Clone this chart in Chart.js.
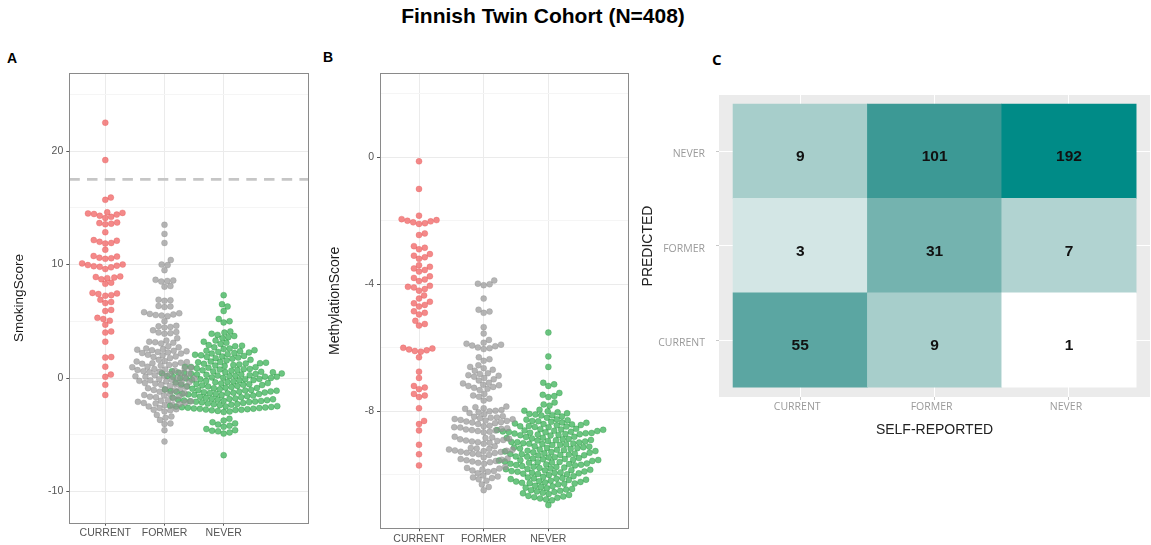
<!DOCTYPE html>
<html><head><meta charset="utf-8">
<script src="https://cdn.jsdelivr.net/npm/chart.js@4.4.1/dist/chart.umd.min.js"></script>
<style>
html,body{margin:0;padding:0;background:#fff;width:1151px;height:545px;overflow:hidden;position:relative;font-family:'Liberation Sans',Arial,sans-serif}
canvas{position:absolute}
.lbl{position:absolute;font-weight:bold;white-space:nowrap;line-height:1;color:#000}
</style></head><body>
<div class="lbl" style="left:543px;top:5px;font-size:21px;transform:translateX(-50%)">Finnish Twin Cohort (N=408)</div>
<div class="lbl" style="left:7px;top:51px;font-size:14px">A</div>
<div class="lbl" style="left:323px;top:50px;font-size:14px">B</div>
<div class="lbl" style="left:712px;top:52px;font-size:15px;font-family:'Open Sans'">C</div>
<canvas id="cA" width="320" height="505" style="left:0;top:40px"></canvas>
<canvas id="cB" width="320" height="505" style="left:320px;top:40px"></canvas>
<canvas id="cC" width="521" height="420" style="left:630px;top:40px"></canvas>
<script>
// ---------------- DATA ----------------
const categories = ['CURRENT', 'FORMER', 'NEVER'];

const smokingCurrent = [22.5, 19.2, 15.9, 15.7, 14.6, 14.55, 14.5, 14.45, 14.4, 14.3, 14.2, 14.1,
  13.7, 13.65, 13.6, 13.55, 12.85, 12.15, 12.1, 12.0, 11.9, 11.85, 11.3, 10.75, 10.7, 10.6, 10.55, 10.5,
  10.1, 10.0, 9.95, 9.9, 9.85, 9.8, 9.75, 9.6, 8.95, 8.9, 8.85, 8.8, 8.7, 8.4, 8.3,
  7.5, 7.45, 7.4, 7.3, 7.25, 6.9, 6.7, 6.6, 6.0, 5.9, 5.3, 5.2, 5.05, 4.7, 4.1, 4.0, 3.2,
  1.85, 1.8, 1.0, 0.3, 0.1, -0.6, -1.5];

const smokingFormer = [13.5, 12.7, 11.9, 10.4, 10.0, 9.95, 9.5, 8.65, 8.6, 8.55, 8.5, 8.1, 8.05,
  6.9, 6.85, 6.8, 6.35, 6.3, 6.25,
  5.8, 5.7, 5.65, 5.6, 5.55, 5.5, 5.45,
  5.0, 4.6, 4.55, 4.5, 4.45,
  4.2, 4.05, 4.0, 3.95, 3.9,
  3.5, 3.3, 3.2, 3.15, 3.1, 3.05,
  2.8, 2.7, 2.6, 2.55, 2.5, 2.45, 2.4, 2.35, 2.3, 2.25, 2.2, 2.15, 2.05,
  2.0, 1.9, 1.85, 1.75, 1.6, 1.5, 1.45, 1.4, 1.35, 1.3, 1.25, 1.2, 1.15, 1.1,
  1.0, 0.95, 0.9, 0.85, 0.8, 0.75, 0.7, 0.65, 0.6, 0.55, 0.5, 0.45, 0.4, 0.35,
  0.25, 0.2, 0.15, 0.1, 0.05, 0.0, -0.05, -0.1, -0.15, -0.2, -0.25, -0.3, -0.35, -0.4, -0.45, -0.5, -0.55, -0.6,
  -0.7, -0.8, -0.9, -0.95, -1.0, -1.05, -1.1, -1.2,
  -1.35, -1.4, -1.5, -1.55, -1.6, -1.65, -1.7, -1.8,
  -1.95, -2.0, -2.05, -2.1, -2.15, -2.2, -2.25, -2.3, -2.35, -2.4, -2.5,
  -2.65, -2.75, -2.8, -2.85, -2.95,
  -3.25, -3.4, -3.5, -3.7,
  -4.0, -4.05, -4.6, -5.6];

const smokingNever = [7.3, 6.5, 6.3, 5.9, 5.2, 5.0, 4.9, 4.1, 4.0, 3.9, 3.8, 3.7, 3.6, 3.5,
  3.3, 3.2, 3.1, 3.0, 2.9, 2.85, 2.8, 2.7, 2.6, 2.55,
  2.45, 2.4, 2.35, 2.3, 2.25, 2.2, 2.15, 2.1, 2.05, 2.0, 1.95, 1.9, 1.85, 1.8, 1.75, 1.7, 1.6, 1.55,
  1.45, 1.4, 1.38, 1.35, 1.3, 1.28, 1.25, 1.2, 1.15, 1.1, 1.05, 1.0, 0.98, 0.95, 0.9, 0.85, 0.8, 0.78,
  0.75, 0.7, 0.68, 0.65, 0.6, 0.58, 0.55, 0.52, 0.5, 0.48,
  0.45, 0.42, 0.4, 0.38, 0.35, 0.32, 0.3, 0.28, 0.25, 0.22, 0.2, 0.18, 0.15, 0.12, 0.1, 0.08, 0.05, 0.02,
  0.0, -0.02, -0.05, -0.08, -0.1, -0.12, -0.15, -0.18, -0.2, -0.25, -0.3, -0.35, -0.38, -0.4, -0.45, -0.48,
  -0.52, -0.55, -0.58, -0.6, -0.62, -0.65, -0.7, -0.72, -0.75, -0.8, -0.85, -0.88, -0.9, -0.95, -1.0, -1.02,
  -1.05, -1.08, -1.1, -1.12, -1.15, -1.18, -1.2, -1.22, -1.25, -1.28, -1.3, -1.32, -1.35, -1.38, -1.4, -1.42,
  -1.45, -1.48,
  -1.5, -1.55, -1.6, -1.65, -1.7, -1.72, -1.75, -1.8, -1.82, -1.85, -1.88, -1.9, -1.92, -1.95, -1.98, -2.0,
  -2.02, -2.05, -2.08, -2.1, -2.12, -2.15, -2.2, -2.25, -2.3, -2.32, -2.35, -2.4, -2.45, -2.48,
  -2.5, -2.52, -2.55, -2.58, -2.6, -2.62, -2.65, -2.68, -2.7, -2.72, -2.75, -2.78, -2.8, -2.82, -2.85, -2.9,
  -2.95, -3.0,
  -3.6, -3.75, -3.9, -4.0, -4.1, -4.2, -4.3,
  -4.5, -4.6, -4.65, -4.7, -4.8, -4.9, -6.8];

const smokingThreshold = 17.5;
const smokingMajorTicks = [-10, 0, 10, 20];
const smokingMinorTicks = [-5, 5, 15, 25];

const methCurrent = [-0.13, -1.0, -1.84, -1.95, -1.98, -2.0, -2.02, -2.05, -2.08, -2.1, -2.4, -2.45,
  -2.8, -2.85, -2.9, -3.05, -3.1, -3.15, -3.2, -3.4, -3.45, -3.5, -3.55, -3.6, -3.75, -3.8, -3.85, -3.9,
  -4.05, -4.08, -4.1, -4.15, -4.2, -4.35, -4.45, -4.55, -4.6, -4.65, -4.7, -4.85, -4.9, -4.95,
  -5.15, -5.25, -5.3, -6.0, -6.02, -6.05, -6.08, -6.1, -6.12, -6.3, -6.75, -6.95,
  -7.2, -7.25, -7.3, -7.45, -7.5, -7.55, -7.9, -8.3, -8.4, -8.6, -9.05, -9.35, -9.7];

const methFormer = [-3.88, -3.98, -4.0, -4.03, -4.45, -4.8, -4.86, -4.9, -5.35, -5.55, -5.75,
  -5.84, -5.87, -5.9, -5.93, -5.95, -5.99, -6.01, -6.04,
  -6.3, -6.36, -6.41, -6.55, -6.6, -6.64, -6.69, -6.72,
  -6.8, -6.82, -6.86, -6.88, -6.91, -6.95, -6.99, -7.03,
  -7.1, -7.12, -7.16, -7.18, -7.2, -7.23, -7.26, -7.29, -7.33,
  -7.45, -7.5, -7.54, -7.6, -7.66,
  -7.85, -7.87, -7.9, -7.92, -7.96, -7.98, -8.0, -8.03, -8.05, -8.09,
  -8.15, -8.17, -8.19, -8.2, -8.22, -8.24, -8.25, -8.27, -8.29, -8.3, -8.32, -8.34, -8.35, -8.37, -8.4,
  -8.45, -8.47, -8.5, -8.51, -8.53, -8.55, -8.57, -8.59, -8.6, -8.62, -8.64, -8.66,
  -8.8, -8.82, -8.84, -8.86, -8.88, -8.9, -8.92, -8.93, -8.95, -8.97, -8.99, -9.02,
  -9.1, -9.15, -9.17, -9.18, -9.2, -9.21, -9.23, -9.24, -9.25, -9.27, -9.28, -9.3, -9.31, -9.33, -9.35, -9.37,
  -9.45, -9.48, -9.5, -9.52, -9.54, -9.56, -9.58, -9.6, -9.62, -9.65,
  -9.75, -9.78, -9.8, -9.83, -9.86, -9.88, -9.9, -9.95,
  -10.02, -10.05, -10.08, -10.1, -10.14, -10.18, -10.3, -10.38, -10.48];

const methNever = [-5.52, -6.27, -6.6, -7.1, -7.15, -7.2, -7.42, -7.48, -7.52, -7.55, -7.72, -7.78, -7.82,
  -7.95, -7.98, -8.0, -8.03, -8.06, -8.08, -8.1, -8.12, -8.13, -8.16, -8.2,
  -8.25, -8.26, -8.28, -8.3, -8.31, -8.33, -8.35, -8.36, -8.38, -8.4, -8.41, -8.43, -8.44, -8.46, -8.47, -8.48, -8.49, -8.5,
  -8.55, -8.56, -8.57, -8.58, -8.59, -8.6, -8.61, -8.62, -8.63, -8.64, -8.65, -8.66, -8.67, -8.68, -8.69, -8.7,
  -8.71, -8.72, -8.73, -8.74, -8.75, -8.76,
  -8.8, -8.81, -8.83, -8.84, -8.85, -8.87, -8.88, -8.9, -8.91, -8.92, -8.93, -8.95, -8.96, -8.97, -8.98, -9.0,
  -9.01, -9.02, -9.03, -9.04, -9.05, -9.06,
  -9.1, -9.11, -9.13, -9.14, -9.15, -9.16, -9.17, -9.18, -9.2, -9.21, -9.22, -9.24, -9.25, -9.26, -9.28, -9.29,
  -9.3, -9.32, -9.33, -9.34, -9.35, -9.36, -9.37, -9.38, -9.39,
  -9.42, -9.43, -9.44, -9.45, -9.47, -9.48, -9.5, -9.51, -9.52, -9.53, -9.54, -9.55, -9.56, -9.58, -9.59, -9.6,
  -9.61, -9.62, -9.64, -9.65, -9.66, -9.67, -9.68, -9.69, -9.7,
  -9.72, -9.74, -9.75, -9.77, -9.78, -9.8, -9.81, -9.82, -9.84, -9.85, -9.86, -9.88, -9.89, -9.9, -9.92, -9.93,
  -9.94, -9.95, -9.96, -9.97, -9.98, -10.0,
  -10.04, -10.06, -10.08, -10.1, -10.11, -10.12, -10.13, -10.15, -10.16, -10.18, -10.2, -10.21, -10.22, -10.24,
  -10.25, -10.26, -10.27, -10.28, -10.3,
  -10.34, -10.36, -10.38, -10.4, -10.42, -10.44, -10.46, -10.48, -10.5, -10.52, -10.54, -10.56, -10.58, -10.6,
  -10.63, -10.66, -10.68, -10.7, -10.72, -10.74, -10.77, -10.8, -10.95];

const methMajorTicks = [-8, -4, 0];
const methMinorTicks = [-10, -6, -2, 2];

const cmSelfReported = ['CURRENT', 'FORMER', 'NEVER'];   // x axis
const cmPredicted = ['CURRENT', 'FORMER', 'NEVER'];      // y axis (bottom to top)
const cmCounts = [            // rows: predicted CURRENT, FORMER, NEVER; cols: self-reported
  [55, 9, 1],
  [3, 31, 7],
  [9, 101, 192]
];

// ---------------- STYLE ----------------
const FILL = ['rgba(240,100,100,0.76)', 'rgba(150,150,150,0.70)', 'rgba(45,172,75,0.70)'];
const EDGE = ['rgba(225,85,85,0.5)', 'rgba(130,130,130,0.45)', 'rgba(30,145,55,0.5)'];
const SPACING = 6.0;
const RADIUS = 3.0;
const TICK_FONT = {family: 'Liberation Sans', size: 10.5};

function swarmOffsets(values, pxPerUnit, d) {
  const order = values.map((v, i) => i).sort((a, b) => values[a] - values[b] || a - b);
  const px = values.map(v => v * pxPerUnit);
  const off = new Array(values.length).fill(0);
  const placed = [];
  for (const i of order) {
    const yi = px[i];
    const near = placed.filter(j => Math.abs(px[j] - yi) < d);
    if (near.length) {
      const cands = [0];
      near.forEach(j => cands.push(off[j] + Math.sqrt(d * d - (px[j] - yi) ** 2)));
      near.forEach(j => cands.push(off[j] - Math.sqrt(d * d - (px[j] - yi) ** 2)));
      let best = Infinity;
      for (const c of cands) {
        const bad = near.some(j => (c - off[j]) ** 2 + (px[j] - yi) ** 2 < d * d * 0.999);
        if (!bad && Math.abs(c) < Math.abs(best)) best = c;
      }
      off[i] = best;
    }
    placed.push(i);
  }
  return off;
}

const panelDecor = {
  id: 'panelDecor',
  afterDatasetsDraw(chart, args, opts) {
    const {ctx, chartArea: a, scales: {y}} = chart;
    ctx.save();
    if (opts.threshold !== undefined && opts.threshold !== null) {
      const py = y.getPixelForValue(opts.threshold);
      ctx.strokeStyle = '#c6c6c6';
      ctx.lineWidth = 2.6;
      ctx.setLineDash([10.5, 7.2]);
      ctx.beginPath(); ctx.moveTo(a.left, py); ctx.lineTo(a.right, py); ctx.stroke();
      ctx.setLineDash([]);
    }
    ctx.strokeStyle = '#8a8a8a';
    ctx.lineWidth = 1;
    const l = Math.round(a.left), t = Math.round(a.top), r = Math.round(a.right), b = Math.round(a.bottom);
    ctx.strokeRect(l + 0.5, t + 0.5, r - l, b - t);
    ctx.restore();
  }
};

function makeSwarmChart(id, cfg) {
  const {W, H, area, xMin, xMax, yMin, yMax, groups, major, minor, yTitle, titleSize, titlePad, threshold, xLabelPad} = cfg;
  const pxX = (area.right - area.left) / (xMax - xMin);
  const pxY = (area.bottom - area.top) / (yMax - yMin);
  const datasets = groups.map((vals, gi) => {
    const off = swarmOffsets(vals, pxY, SPACING);
    return {
      data: vals.map((v, i) => ({x: gi + 1 + off[i] / pxX, y: v})),
      backgroundColor: FILL[gi], borderColor: EDGE[gi], borderWidth: 0.6,
      pointRadius: RADIUS, pointHoverRadius: RADIUS
    };
  });
  const allTicks = major.concat(minor).sort((a, b) => a - b);
  const isMajor = v => major.some(m => Math.abs(m - v) < 1e-9);
  return new Chart(document.getElementById(id), {
    type: 'scatter',
    data: {datasets},
    options: {
      responsive: false, animation: false, devicePixelRatio: 1, events: [],
      layout: {padding: {left: 0, top: area.top, right: W - area.right, bottom: 0}},
      plugins: {legend: {display: false}, tooltip: {enabled: false}, panelDecor: {threshold}},
      scales: {
        x: {
          type: 'linear', min: xMin, max: xMax,
          afterFit: s => { s.height = H - area.bottom; },
          afterBuildTicks: s => { s.ticks = categories.map((c, i) => ({value: i + 1})); },
          ticks: {callback: v => categories[Math.round(v) - 1] || '', font: TICK_FONT, color: '#555', padding: xLabelPad, maxRotation: 0, autoSkip: false},
          grid: {color: '#ebebeb', lineWidth: 1, tickLength: 3, tickColor: '#555'},
          border: {display: false}
        },
        y: {
          type: 'linear', min: yMin, max: yMax,
          afterFit: s => { s.width = area.left; },
          afterBuildTicks: s => { s.ticks = allTicks.map(v => ({value: v})); },
          ticks: {callback: v => isMajor(v) ? String(v) : '', font: TICK_FONT, color: '#555', padding: 3, autoSkip: false},
          grid: {
            color: c => (c.tick && isMajor(c.tick.value)) ? '#ebebeb' : '#f5f5f5',
            tickColor: c => (c.tick && isMajor(c.tick.value)) ? '#555' : 'rgba(0,0,0,0)',
            lineWidth: 1, tickLength: 3
          },
          border: {display: false},
          title: {display: true, text: yTitle, color: '#1a1a1a', font: {family: 'Liberation Sans', size: titleSize}, padding: {top: titlePad, bottom: 0}}
        }
      }
    },
    plugins: [panelDecor]
  });
}

makeSwarmChart('cA', {
  W: 320, H: 505, area: {left: 69.3, top: 33.3, right: 308.3, bottom: 482.7},
  xMin: 0.392, xMax: 4.43, yMin: -12.75, yMax: 26.85,
  groups: [smokingCurrent, smokingFormer, smokingNever],
  major: smokingMajorTicks, minor: smokingMinorTicks,
  yTitle: 'SmokingScore', titleSize: 13.5, titlePad: 10.9, threshold: smokingThreshold, xLabelPad: 1.3
});

makeSwarmChart('cB', {
  W: 320, H: 505, area: {left: 60, top: 33.3, right: 308.3, bottom: 488.3},
  xMin: 0.397, xMax: 4.236, yMin: -11.68, yMax: 2.64,
  groups: [methCurrent, methFormer, methNever],
  major: methMajorTicks, minor: methMinorTicks,
  yTitle: 'MethylationScore', titleSize: 14, titlePad: 6.6, threshold: null, xLabelPad: 1.4
});

// ---------------- HEATMAP ----------------
function hexToRgb(h) { return [1, 3, 5].map(i => parseInt(h.slice(i, i + 2), 16)); }
function toLin(c) { c /= 255; return c <= 0.04045 ? c / 12.92 : Math.pow((c + 0.055) / 1.055, 2.4); }
function fromLin(c) { const v = c <= 0.0031308 ? 12.92 * c : 1.055 * Math.pow(c, 1 / 2.4) - 0.055; return Math.round(Math.min(1, Math.max(0, v)) * 255); }
const WX = 0.95047, WZ = 1.08883;
function rgbToLab(rgb) {
  const [r, g, b] = rgb.map(toLin);
  const X = (0.4124 * r + 0.3576 * g + 0.1805 * b) / WX, Y = 0.2126 * r + 0.7152 * g + 0.0722 * b, Z = (0.0193 * r + 0.1192 * g + 0.9505 * b) / WZ;
  const f = t => t > 0.008856 ? Math.cbrt(t) : 7.787 * t + 16 / 116;
  const fx = f(X), fy = f(Y), fz = f(Z);
  return [116 * fy - 16, 500 * (fx - fy), 200 * (fy - fz)];
}
function labToRgb([L, a, b]) {
  const fy = (L + 16) / 116, fx = fy + a / 500, fz = fy - b / 200;
  const inv = t => t * t * t > 0.008856 ? t * t * t : (t - 16 / 116) / 7.787;
  const X = inv(fx) * WX, Y = inv(fy), Z = inv(fz) * WZ;
  return [fromLin(3.2406 * X - 1.5372 * Y - 0.4986 * Z), fromLin(-0.9689 * X + 1.8758 * Y + 0.0415 * Z), fromLin(0.0557 * X - 0.2040 * Y + 1.0570 * Z)];
}
const LOW_LAB = rgbToLab(hexToRgb('#ffffff'));
const HIGH_LAB = rgbToLab(hexToRgb('#008b87'));
const cmMax = Math.max(...cmCounts.flat());
function cellColor(v) {
  const t = Math.log(v) / Math.log(cmMax);
  const lab = LOW_LAB.map((l, i) => l + (HIGH_LAB[i] - l) * t);
  const [r, g, b] = labToRgb(lab);
  return `rgb(${r},${g},${b})`;
}

const heatDecor = {
  id: 'heatDecor',
  beforeDraw(chart) {
    const {ctx, chartArea: a} = chart;
    ctx.save(); ctx.fillStyle = '#ebebeb';
    ctx.fillRect(a.left, a.top, a.right - a.left, a.bottom - a.top);
    ctx.restore();
  },
  afterDatasetsDraw(chart) {
    const ctx = chart.ctx;
    ctx.save();
    ctx.font = 'bold 15.5px "Liberation Sans"';
    ctx.fillStyle = '#111';
    ctx.textAlign = 'center'; ctx.textBaseline = 'middle';
    chart.data.datasets.forEach((ds, di) => {
      chart.getDatasetMeta(di).data.forEach((el, ci) => {
        const p = el.getProps(['x', 'y', 'base'], true);
        ctx.fillText(String(cmCounts[di][ci]), p.x, (p.y + p.base) / 2 + 6);
      });
    });
    ctx.restore();
  }
};

const HC = {W: 521, H: 420, area: {left: 89, top: 55, right: 520, bottom: 357}};
new Chart(document.getElementById('cC'), {
  type: 'bar',
  data: {
    datasets: cmPredicted.map((row, ri) => ({
      data: cmSelfReported.map((col, ci) => ({x: ci + 1, y: [ri + 0.5, ri + 1.5]})),
      backgroundColor: cmSelfReported.map((col, ci) => cellColor(cmCounts[ri][ci])),
      borderWidth: 0, grouped: false, barPercentage: 1, categoryPercentage: 1
    }))
  },
  options: {
    responsive: false, animation: false, devicePixelRatio: 1, events: [],
    layout: {padding: {left: 0, top: HC.area.top, right: HC.W - HC.area.right, bottom: 0}},
    plugins: {legend: {display: false}, tooltip: {enabled: false}},
    scales: {
      x: {
        type: 'linear', min: 0.3955, max: 3.603, offset: false,
        afterFit: s => { s.height = HC.H - HC.area.bottom; },
        afterBuildTicks: s => { s.ticks = cmSelfReported.map((c, i) => ({value: i + 1})); },
        ticks: {callback: v => cmSelfReported[Math.round(v) - 1] || '', font: {family: 'Open Sans', size: 10.5}, color: '#9a9a9a', padding: 0.4, labelOffset: -3, maxRotation: 0, autoSkip: false},
        grid: {color: '#ffffff', lineWidth: 1, tickLength: 3, tickColor: '#c8c8c8', offset: false},
        border: {display: false},
        title: {display: true, text: 'SELF-REPORTED', color: '#222', font: {family: 'Liberation Sans', size: 14}, padding: {top: 0, bottom: 21.6}}
      },
      y: {
        type: 'linear', min: 0.397, max: 3.595, beginAtZero: false,
        afterFit: s => { s.width = HC.area.left; },
        afterBuildTicks: s => { s.ticks = cmPredicted.map((c, i) => ({value: i + 1})); },
        ticks: {callback: v => cmPredicted[Math.round(v) - 1] || '', font: {family: 'Open Sans', size: 10.5}, color: '#9a9a9a', padding: 11, labelOffset: 3, autoSkip: false},
        grid: {color: '#ffffff', lineWidth: 1, tickLength: 3, tickColor: '#c8c8c8'},
        border: {display: false},
        title: {display: true, text: 'PREDICTED', color: '#222', font: {family: 'Liberation Sans', size: 14}, padding: {top: 9.6, bottom: 0}}
      }
    }
  },
  plugins: [heatDecor]
});
</script>
</body></html>
